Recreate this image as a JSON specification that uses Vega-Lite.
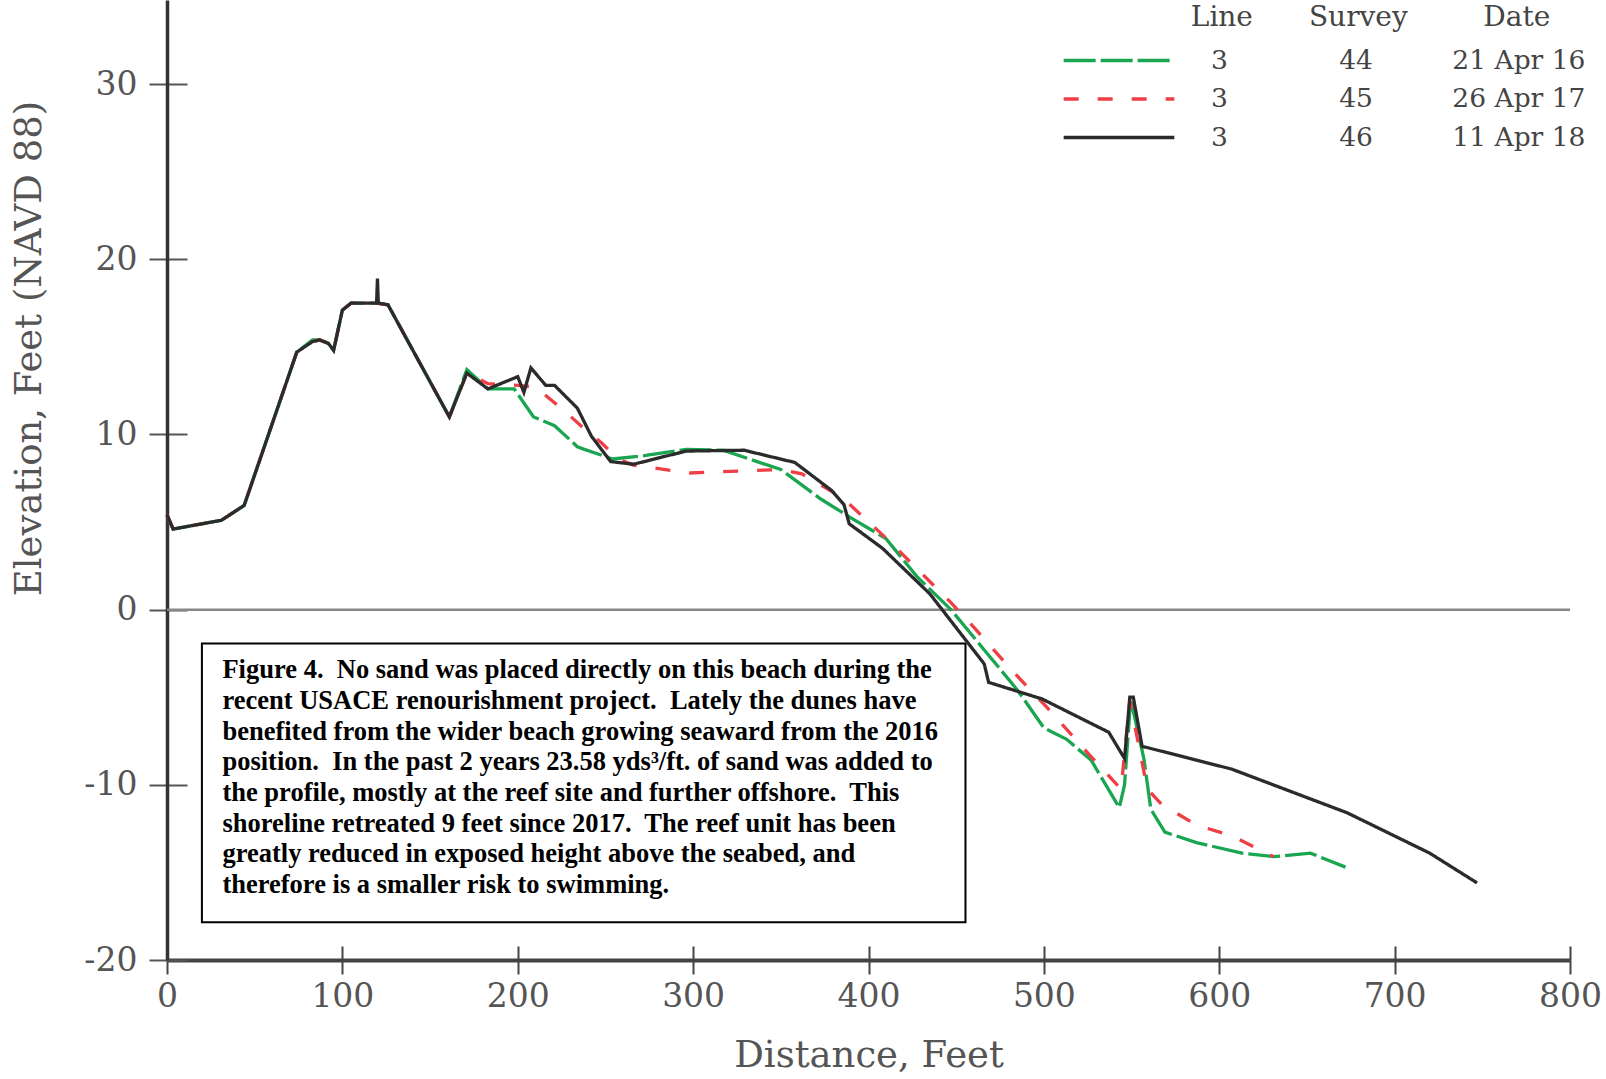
{
  "$schema": "https://vega.github.io/schema/vega-lite/v6.json",
  "width": 1403,
  "height": 960,
  "autosize": {"type": "none"},
  "padding": {"left": 167, "top": 0, "right": 36, "bottom": 119},
  "background": "white",
  "config": {"view": {"stroke": null}, "font": "DejaVu Serif"},
  "datasets": {
    "profiles": [
      {"distance": 0, "elevation": 5.4, "survey": "44", "date": "21 Apr 16"},
      {"distance": 3.5, "elevation": 4.6, "survey": "44", "date": "21 Apr 16"},
      {"distance": 31, "elevation": 5.1, "survey": "44", "date": "21 Apr 16"},
      {"distance": 44, "elevation": 5.95, "survey": "44", "date": "21 Apr 16"},
      {"distance": 74, "elevation": 14.7, "survey": "44", "date": "21 Apr 16"},
      {"distance": 83, "elevation": 15.4, "survey": "44", "date": "21 Apr 16"},
      {"distance": 87, "elevation": 15.4, "survey": "44", "date": "21 Apr 16"},
      {"distance": 92, "elevation": 15.2, "survey": "44", "date": "21 Apr 16"},
      {"distance": 95, "elevation": 14.8, "survey": "44", "date": "21 Apr 16"},
      {"distance": 100, "elevation": 17.1, "survey": "44", "date": "21 Apr 16"},
      {"distance": 105, "elevation": 17.5, "survey": "44", "date": "21 Apr 16"},
      {"distance": 119.5, "elevation": 17.5, "survey": "44", "date": "21 Apr 16"},
      {"distance": 126, "elevation": 17.4, "survey": "44", "date": "21 Apr 16"},
      {"distance": 161, "elevation": 11.0, "survey": "44", "date": "21 Apr 16"},
      {"distance": 171, "elevation": 13.7, "survey": "44", "date": "21 Apr 16"},
      {"distance": 183, "elevation": 12.6, "survey": "44", "date": "21 Apr 16"},
      {"distance": 198, "elevation": 12.6, "survey": "44", "date": "21 Apr 16"},
      {"distance": 209, "elevation": 11.0, "survey": "44", "date": "21 Apr 16"},
      {"distance": 221, "elevation": 10.5, "survey": "44", "date": "21 Apr 16"},
      {"distance": 234, "elevation": 9.3, "survey": "44", "date": "21 Apr 16"},
      {"distance": 238, "elevation": 9.15, "survey": "44", "date": "21 Apr 16"},
      {"distance": 254, "elevation": 8.6, "survey": "44", "date": "21 Apr 16"},
      {"distance": 273, "elevation": 8.8, "survey": "44", "date": "21 Apr 16"},
      {"distance": 296, "elevation": 9.15, "survey": "44", "date": "21 Apr 16"},
      {"distance": 317, "elevation": 9.1, "survey": "44", "date": "21 Apr 16"},
      {"distance": 350, "elevation": 8.0, "survey": "44", "date": "21 Apr 16"},
      {"distance": 373, "elevation": 6.3, "survey": "44", "date": "21 Apr 16"},
      {"distance": 389, "elevation": 5.3, "survey": "44", "date": "21 Apr 16"},
      {"distance": 410, "elevation": 4.05, "survey": "44", "date": "21 Apr 16"},
      {"distance": 427.5, "elevation": 1.9, "survey": "44", "date": "21 Apr 16"},
      {"distance": 447, "elevation": 0, "survey": "44", "date": "21 Apr 16"},
      {"distance": 466, "elevation": -2.3, "survey": "44", "date": "21 Apr 16"},
      {"distance": 485, "elevation": -4.6, "survey": "44", "date": "21 Apr 16"},
      {"distance": 500, "elevation": -6.75, "survey": "44", "date": "21 Apr 16"},
      {"distance": 513, "elevation": -7.4, "survey": "44", "date": "21 Apr 16"},
      {"distance": 527, "elevation": -8.6, "survey": "44", "date": "21 Apr 16"},
      {"distance": 543, "elevation": -11.3, "survey": "44", "date": "21 Apr 16"},
      {"distance": 546, "elevation": -10.0, "survey": "44", "date": "21 Apr 16"},
      {"distance": 549.5, "elevation": -5.1, "survey": "44", "date": "21 Apr 16"},
      {"distance": 557, "elevation": -8.5, "survey": "44", "date": "21 Apr 16"},
      {"distance": 561, "elevation": -11.4, "survey": "44", "date": "21 Apr 16"},
      {"distance": 569, "elevation": -12.7, "survey": "44", "date": "21 Apr 16"},
      {"distance": 587, "elevation": -13.3, "survey": "44", "date": "21 Apr 16"},
      {"distance": 613, "elevation": -13.9, "survey": "44", "date": "21 Apr 16"},
      {"distance": 631, "elevation": -14.1, "survey": "44", "date": "21 Apr 16"},
      {"distance": 652, "elevation": -13.9, "survey": "44", "date": "21 Apr 16"},
      {"distance": 672, "elevation": -14.7, "survey": "44", "date": "21 Apr 16"},

      {"distance": 0, "elevation": 5.4, "survey": "45", "date": "26 Apr 17"},
      {"distance": 3.5, "elevation": 4.6, "survey": "45", "date": "26 Apr 17"},
      {"distance": 31, "elevation": 5.1, "survey": "45", "date": "26 Apr 17"},
      {"distance": 44, "elevation": 5.95, "survey": "45", "date": "26 Apr 17"},
      {"distance": 74, "elevation": 14.7, "survey": "45", "date": "26 Apr 17"},
      {"distance": 83, "elevation": 15.3, "survey": "45", "date": "26 Apr 17"},
      {"distance": 87, "elevation": 15.4, "survey": "45", "date": "26 Apr 17"},
      {"distance": 92, "elevation": 15.2, "survey": "45", "date": "26 Apr 17"},
      {"distance": 95, "elevation": 14.8, "survey": "45", "date": "26 Apr 17"},
      {"distance": 100, "elevation": 17.1, "survey": "45", "date": "26 Apr 17"},
      {"distance": 105, "elevation": 17.5, "survey": "45", "date": "26 Apr 17"},
      {"distance": 119.5, "elevation": 17.5, "survey": "45", "date": "26 Apr 17"},
      {"distance": 126, "elevation": 17.4, "survey": "45", "date": "26 Apr 17"},
      {"distance": 161, "elevation": 11.0, "survey": "45", "date": "26 Apr 17"},
      {"distance": 171, "elevation": 13.5, "survey": "45", "date": "26 Apr 17"},
      {"distance": 183, "elevation": 12.9, "survey": "45", "date": "26 Apr 17"},
      {"distance": 200, "elevation": 12.8, "survey": "45", "date": "26 Apr 17"},
      {"distance": 210, "elevation": 12.7, "survey": "45", "date": "26 Apr 17"},
      {"distance": 226, "elevation": 11.4, "survey": "45", "date": "26 Apr 17"},
      {"distance": 236, "elevation": 10.5, "survey": "45", "date": "26 Apr 17"},
      {"distance": 248, "elevation": 9.5, "survey": "45", "date": "26 Apr 17"},
      {"distance": 257, "elevation": 8.6, "survey": "45", "date": "26 Apr 17"},
      {"distance": 266, "elevation": 8.25, "survey": "45", "date": "26 Apr 17"},
      {"distance": 276.5, "elevation": 8.1, "survey": "45", "date": "26 Apr 17"},
      {"distance": 298, "elevation": 7.8, "survey": "45", "date": "26 Apr 17"},
      {"distance": 350, "elevation": 8.0, "survey": "45", "date": "26 Apr 17"},
      {"distance": 362, "elevation": 7.75, "survey": "45", "date": "26 Apr 17"},
      {"distance": 385, "elevation": 6.4, "survey": "45", "date": "26 Apr 17"},
      {"distance": 412, "elevation": 3.9, "survey": "45", "date": "26 Apr 17"},
      {"distance": 447, "elevation": 0.4, "survey": "45", "date": "26 Apr 17"},
      {"distance": 460, "elevation": -1.0, "survey": "45", "date": "26 Apr 17"},
      {"distance": 483, "elevation": -3.6, "survey": "45", "date": "26 Apr 17"},
      {"distance": 501, "elevation": -5.5, "survey": "45", "date": "26 Apr 17"},
      {"distance": 527, "elevation": -8.4, "survey": "45", "date": "26 Apr 17"},
      {"distance": 544, "elevation": -10.25, "survey": "45", "date": "26 Apr 17"},
      {"distance": 549, "elevation": -5.2, "survey": "45", "date": "26 Apr 17"},
      {"distance": 555, "elevation": -8.2, "survey": "45", "date": "26 Apr 17"},
      {"distance": 559, "elevation": -10.25, "survey": "45", "date": "26 Apr 17"},
      {"distance": 567, "elevation": -11.1, "survey": "45", "date": "26 Apr 17"},
      {"distance": 587, "elevation": -12.3, "survey": "45", "date": "26 Apr 17"},
      {"distance": 607, "elevation": -12.9, "survey": "45", "date": "26 Apr 17"},
      {"distance": 631, "elevation": -14.1, "survey": "45", "date": "26 Apr 17"},

      {"distance": 0, "elevation": 5.4, "survey": "46", "date": "11 Apr 18"},
      {"distance": 3.5, "elevation": 4.6, "survey": "46", "date": "11 Apr 18"},
      {"distance": 31, "elevation": 5.1, "survey": "46", "date": "11 Apr 18"},
      {"distance": 44, "elevation": 5.95, "survey": "46", "date": "11 Apr 18"},
      {"distance": 74, "elevation": 14.7, "survey": "46", "date": "11 Apr 18"},
      {"distance": 83, "elevation": 15.3, "survey": "46", "date": "11 Apr 18"},
      {"distance": 87, "elevation": 15.4, "survey": "46", "date": "11 Apr 18"},
      {"distance": 92, "elevation": 15.2, "survey": "46", "date": "11 Apr 18"},
      {"distance": 95, "elevation": 14.8, "survey": "46", "date": "11 Apr 18"},
      {"distance": 100, "elevation": 17.1, "survey": "46", "date": "11 Apr 18"},
      {"distance": 105, "elevation": 17.5, "survey": "46", "date": "11 Apr 18"},
      {"distance": 119.5, "elevation": 17.5, "survey": "46", "date": "11 Apr 18"},
      {"distance": 120, "elevation": 18.9, "survey": "46", "date": "11 Apr 18"},
      {"distance": 120.5, "elevation": 17.5, "survey": "46", "date": "11 Apr 18"},
      {"distance": 126, "elevation": 17.4, "survey": "46", "date": "11 Apr 18"},
      {"distance": 161, "elevation": 11.0, "survey": "46", "date": "11 Apr 18"},
      {"distance": 171, "elevation": 13.5, "survey": "46", "date": "11 Apr 18"},
      {"distance": 183, "elevation": 12.6, "survey": "46", "date": "11 Apr 18"},
      {"distance": 200, "elevation": 13.3, "survey": "46", "date": "11 Apr 18"},
      {"distance": 203.5, "elevation": 12.4, "survey": "46", "date": "11 Apr 18"},
      {"distance": 207.5, "elevation": 13.8, "survey": "46", "date": "11 Apr 18"},
      {"distance": 216, "elevation": 12.8, "survey": "46", "date": "11 Apr 18"},
      {"distance": 221, "elevation": 12.8, "survey": "46", "date": "11 Apr 18"},
      {"distance": 234, "elevation": 11.5, "survey": "46", "date": "11 Apr 18"},
      {"distance": 242, "elevation": 9.9, "survey": "46", "date": "11 Apr 18"},
      {"distance": 253, "elevation": 8.45, "survey": "46", "date": "11 Apr 18"},
      {"distance": 266, "elevation": 8.3, "survey": "46", "date": "11 Apr 18"},
      {"distance": 296, "elevation": 9.05, "survey": "46", "date": "11 Apr 18"},
      {"distance": 329, "elevation": 9.1, "survey": "46", "date": "11 Apr 18"},
      {"distance": 358, "elevation": 8.4, "survey": "46", "date": "11 Apr 18"},
      {"distance": 379, "elevation": 6.8, "survey": "46", "date": "11 Apr 18"},
      {"distance": 386, "elevation": 6.0, "survey": "46", "date": "11 Apr 18"},
      {"distance": 389, "elevation": 4.9, "survey": "46", "date": "11 Apr 18"},
      {"distance": 408, "elevation": 3.5, "survey": "46", "date": "11 Apr 18"},
      {"distance": 435, "elevation": 0.9, "survey": "46", "date": "11 Apr 18"},
      {"distance": 442, "elevation": 0, "survey": "46", "date": "11 Apr 18"},
      {"distance": 466, "elevation": -3.1, "survey": "46", "date": "11 Apr 18"},
      {"distance": 468.5, "elevation": -4.15, "survey": "46", "date": "11 Apr 18"},
      {"distance": 499, "elevation": -5.1, "survey": "46", "date": "11 Apr 18"},
      {"distance": 517, "elevation": -6.0, "survey": "46", "date": "11 Apr 18"},
      {"distance": 537, "elevation": -7.0, "survey": "46", "date": "11 Apr 18"},
      {"distance": 546, "elevation": -8.5, "survey": "46", "date": "11 Apr 18"},
      {"distance": 549, "elevation": -5.0, "survey": "46", "date": "11 Apr 18"},
      {"distance": 551, "elevation": -5.0, "survey": "46", "date": "11 Apr 18"},
      {"distance": 556, "elevation": -7.8, "survey": "46", "date": "11 Apr 18"},
      {"distance": 607, "elevation": -9.1, "survey": "46", "date": "11 Apr 18"},
      {"distance": 673, "elevation": -11.6, "survey": "46", "date": "11 Apr 18"},
      {"distance": 720, "elevation": -13.9, "survey": "46", "date": "11 Apr 18"},
      {"distance": 747, "elevation": -15.6, "survey": "46", "date": "11 Apr 18"}
    ]
  },
  "layer": [
    {
      "data": {"values": [{"note": "caption box"}]},
      "mark": {"type": "rect", "fill": "white", "stroke": "black", "strokeWidth": 2},
      "encoding": {
        "x": {"datum": 19.9, "type": "quantitative", "axis": null, "scale": {"domain": [0, 800], "nice": false, "zero": false}},
        "x2": {"datum": 455.3},
        "y": {"datum": -1.93, "type": "quantitative", "axis": null, "scale": {"domain": [-20, 34.8], "nice": false, "zero": false}},
        "y2": {"datum": -17.84}
      }
    },
    {
      "data": {"values": [{"note": "caption"}]},
      "mark": {
        "type": "text",
        "align": "left",
        "baseline": "alphabetic",
        "font": "Liberation Serif",
        "fontWeight": "bold",
        "fontSize": 26.5,
        "lineHeight": 30.7,
        "color": "black",
        "text": [
          "Figure 4.\u00a0 No sand was placed directly on this beach during the",
          "recent USACE renourishment project.\u00a0 Lately the dunes have",
          "benefited from the wider beach growing seaward from the 2016",
          "position.\u00a0 In the past 2 years 23.58 yds\u00b3/ft. of sand was added to",
          "the profile, mostly at the reef site and further offshore.\u00a0 This",
          "shoreline retreated 9 feet since 2017.\u00a0 The reef unit has been",
          "greatly reduced in exposed height above the seabed, and",
          "therefore is a smaller risk to swimming."
        ]
      },
      "encoding": {
        "x": {"datum": 31.6, "type": "quantitative", "axis": null, "scale": {"domain": [0, 800], "nice": false, "zero": false}},
        "y": {"datum": -3.92, "type": "quantitative", "axis": null, "scale": {"domain": [-20, 34.8], "nice": false, "zero": false}}
      }
    },
    {
      "data": {"values": [{"note": "zero line"}]},
      "mark": {"type": "rule", "color": "#888888", "strokeWidth": 2.5},
      "encoding": {
        "x": {"datum": 0, "type": "quantitative", "scale": {"domain": [0, 800], "nice": false, "zero": false},
              "axis": {"orient": "bottom", "values": [0, 100, 200, 300, 400, 500, 600, 700, 800], "tickSize": -14, "tickWidth": 2, "tickColor": "#444444", "labels": false, "domain": false, "title": null, "grid": false}},
        "x2": {"datum": 800},
        "y": {"datum": 0, "type": "quantitative", "scale": {"domain": [-20, 34.8], "nice": false, "zero": false},
              "axis": {"orient": "left", "values": [-20, -10, 0, 10, 20, 30], "tickSize": -20, "tickWidth": 2, "tickColor": "#555555", "labels": false, "domain": false, "title": null, "grid": false}}
      }
    },
    {
      "data": {"name": "profiles"},
      "mark": {"type": "line", "strokeWidth": 3.3},
      "encoding": {
        "x": {
          "field": "distance", "type": "quantitative",
          "scale": {"domain": [0, 800], "nice": false, "zero": false},
          "axis": {
            "orient": "bottom", "values": [0, 100, 200, 300, 400, 500, 600, 700, 800],
            "tickSize": 14, "tickWidth": 2, "tickColor": "#444444",
            "domainWidth": 4, "domainColor": "#444444",
            "labelFontSize": 33, "labelColor": "#555555", "labelPadding": 6, "labelFlush": false, "labelOverlap": false,
            "title": "Distance, Feet", "titleFontSize": 37, "titleFontWeight": "normal", "titleColor": "#555555", "titlePadding": 24,
            "grid": false
          }
        },
        "y": {
          "field": "elevation", "type": "quantitative",
          "scale": {"domain": [-20, 34.8], "nice": false, "zero": false},
          "axis": {
            "orient": "left", "values": [-20, -10, 0, 10, 20, 30],
            "tickSize": 18, "tickWidth": 2, "tickColor": "#555555",
            "domainWidth": 3.5, "domainColor": "#333333",
            "labelFontSize": 33, "labelColor": "#555555", "labelPadding": 12, "labelOverlap": false,
            "labelExpr": "datum.value < 0 ? '-' + abs(datum.value) : datum.label",
            "title": "Elevation, Feet (NAVD 88)", "titleFontSize": 37, "titleFontWeight": "normal", "titleColor": "#555555",
            "titleX": -138, "titleY": 348, "titleBaseline": "middle", "titleAlign": "center", "titleAngle": 270,
            "grid": false
          }
        },
        "color": {
          "field": "survey", "type": "nominal",
          "scale": {"domain": ["44", "45", "46"], "range": ["#1aa650", "#ef3e46", "#2b2b2b"]},
          "legend": {
            "title": "\u200b\u2003\u2003\u2003\u2003\u2002\u200aLine\u2003\u2003Survey\u2003\u2003\u2002\u2009Date",
            "orient": "none", "legendX": 895, "legendY": 4, "padding": 0,
            "symbolType": "stroke", "symbolSize": 12250, "symbolStrokeWidth": 3.3, "clipHeight": 25,
            "rowPadding": 11.5, "labelOffset": 35, "labelFontSize": 26.5, "labelColor": "#444444", "labelLimit": 800,
            "titleFontSize": 28, "titleFontWeight": "normal", "titleColor": "#444444", "titlePadding": 16, "titleLimit": 800,
            "labelExpr": "'3\u2003\u2003\u2003\u2003\u2009' + datum.label + '\u2003\u2003\u2003' + (datum.label == '44' ? '21 Apr 16' : datum.label == '45' ? '26 Apr 17' : '11 Apr 18')"
          }
        },
        "strokeDash": {
          "field": "survey", "type": "nominal",
          "scale": {"domain": ["44", "45", "46"], "range": [[32, 5], [15, 19], [1, 0]]},
          "legend": {
            "title": "\u200b\u2003\u2003\u2003\u2003\u2002\u200aLine\u2003\u2003Survey\u2003\u2003\u2002\u2009Date",
            "orient": "none", "legendX": 895, "legendY": 4, "padding": 0,
            "symbolType": "stroke", "symbolSize": 12250, "symbolStrokeWidth": 3.3, "clipHeight": 25,
            "rowPadding": 11.5, "labelOffset": 35, "labelFontSize": 26.5, "labelColor": "#444444", "labelLimit": 800,
            "titleFontSize": 28, "titleFontWeight": "normal", "titleColor": "#444444", "titlePadding": 16, "titleLimit": 800,
            "labelExpr": "'3\u2003\u2003\u2003\u2003\u2009' + datum.label + '\u2003\u2003\u2003' + (datum.label == '44' ? '21 Apr 16' : datum.label == '45' ? '26 Apr 17' : '11 Apr 18')"
          }
        }
      }
    }
  ],
  "resolve": {"axis": {"x": "independent", "y": "independent"}}
}
